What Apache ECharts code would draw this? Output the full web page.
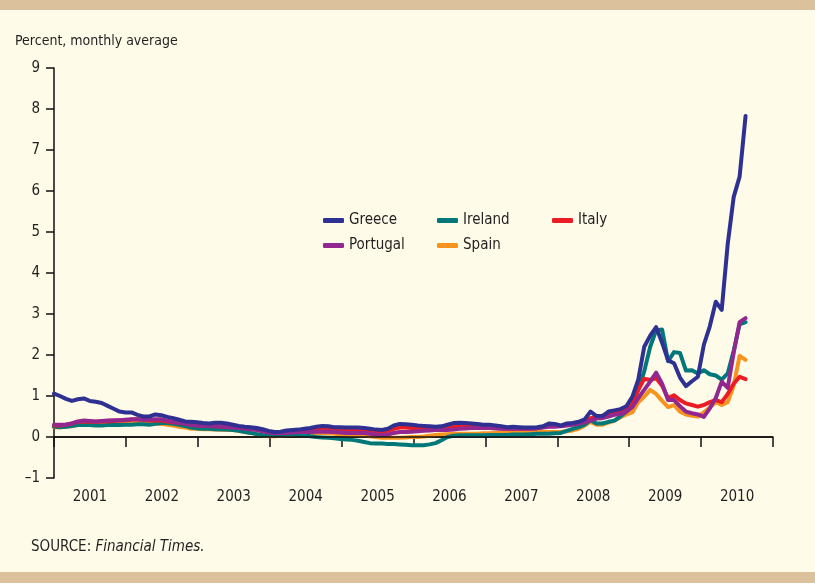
<!DOCTYPE html>
<html>
<head>
<meta charset="utf-8">
<script src="https://cdn.jsdelivr.net/npm/echarts@6/dist/echarts.min.js"></script>
<style>
  html, body { margin: 0; padding: 0; background: #fefbe9; }
  #chart { width: 815px; height: 588px; }
</style>
</head>
<body>
<div id="chart"></div>
<script>
// monthly averages, Jan 2001 onwards (percent)
const years = ['2001', '2002', '2003', '2004', '2005', '2006', '2007', '2008', '2009', '2010'];

const greece = [
  1.06, 1.0, 0.93, 0.88, 0.92, 0.94, 0.88, 0.86, 0.83, 0.76, 0.69, 0.62,
  0.6, 0.6, 0.54, 0.5, 0.5, 0.55, 0.53, 0.49, 0.46, 0.42, 0.38, 0.37,
  0.36, 0.34, 0.33, 0.35, 0.35, 0.33, 0.3, 0.27, 0.25, 0.24, 0.22, 0.19,
  0.15, 0.12, 0.13, 0.16, 0.17, 0.18, 0.2, 0.22, 0.25, 0.27, 0.26, 0.24,
  0.24, 0.23, 0.23, 0.23, 0.22, 0.2, 0.18, 0.17, 0.2, 0.28, 0.32, 0.31,
  0.3, 0.28, 0.27, 0.26, 0.25, 0.26, 0.3, 0.34, 0.35, 0.34, 0.33, 0.32,
  0.3, 0.3, 0.28, 0.26, 0.24, 0.25, 0.24, 0.23, 0.23, 0.24, 0.26, 0.33,
  0.32, 0.28, 0.33, 0.34, 0.37, 0.43, 0.62, 0.51, 0.51, 0.62, 0.65, 0.68,
  0.75, 0.98, 1.4, 2.2, 2.47, 2.68, 2.3, 1.87, 1.8, 1.45, 1.24, 1.36,
  1.47, 2.25, 2.7, 3.3, 3.1, 4.7, 5.85, 6.35, 7.83
];
const ireland = [
  0.25, 0.24, 0.25, 0.27, 0.29, 0.3, 0.29, 0.28, 0.28, 0.29, 0.3, 0.29,
  0.3, 0.3, 0.31, 0.31, 0.3, 0.32, 0.34, 0.34, 0.32, 0.3, 0.27, 0.23,
  0.21, 0.2, 0.2, 0.19, 0.18, 0.18, 0.17, 0.15, 0.12, 0.1, 0.07, 0.05,
  0.04, 0.04, 0.05, 0.06, 0.06, 0.06, 0.05, 0.02, 0.0, -0.01, -0.02, -0.03,
  -0.05, -0.06, -0.07, -0.09, -0.12, -0.15, -0.16, -0.16, -0.17, -0.17, -0.18, -0.19,
  -0.2, -0.2, -0.2, -0.18, -0.15, -0.08, 0.0, 0.03, 0.04, 0.04, 0.04, 0.04,
  0.04, 0.05, 0.05, 0.05, 0.05, 0.06, 0.06, 0.06, 0.07, 0.08, 0.08, 0.08,
  0.09, 0.1, 0.15, 0.2, 0.24, 0.3, 0.41, 0.33, 0.33, 0.37, 0.4, 0.5,
  0.62, 0.8, 1.15, 1.6, 2.2, 2.6, 2.62, 1.85, 2.07, 2.05, 1.62, 1.63,
  1.55, 1.63, 1.53, 1.5, 1.4, 1.55, 2.1, 2.75, 2.8
];
const italy = [
  0.28, 0.28, 0.3, 0.33, 0.37, 0.38, 0.37, 0.37, 0.38, 0.38, 0.39, 0.4,
  0.41, 0.42, 0.43, 0.42, 0.4, 0.41, 0.4, 0.38, 0.36, 0.34, 0.33, 0.3,
  0.28, 0.27, 0.27, 0.26, 0.26, 0.25, 0.25, 0.24, 0.22, 0.2, 0.18, 0.15,
  0.12, 0.1, 0.1, 0.12, 0.13, 0.14, 0.16, 0.18, 0.2, 0.21, 0.2, 0.19,
  0.18, 0.18, 0.17, 0.17, 0.17, 0.16, 0.14, 0.13, 0.15, 0.2, 0.23, 0.23,
  0.22, 0.2, 0.2, 0.2, 0.22, 0.24, 0.26, 0.27, 0.27, 0.27, 0.26, 0.25,
  0.24, 0.23, 0.22, 0.21, 0.2, 0.2, 0.2, 0.2, 0.21, 0.22, 0.24, 0.27,
  0.28, 0.27, 0.3, 0.33, 0.35, 0.4, 0.46, 0.49, 0.52, 0.55, 0.58, 0.6,
  0.7, 0.85, 1.15, 1.42, 1.39, 1.44, 1.25, 0.95, 1.02, 0.9, 0.82, 0.78,
  0.74, 0.78, 0.85, 0.9, 0.85, 1.05, 1.3, 1.47, 1.41
];
const portugal = [
  0.3, 0.3, 0.3, 0.33, 0.38, 0.4, 0.39, 0.38, 0.39, 0.4, 0.41, 0.41,
  0.42, 0.43, 0.43, 0.42, 0.42, 0.43, 0.43, 0.4, 0.37, 0.34, 0.33, 0.3,
  0.28, 0.27, 0.27, 0.26, 0.25, 0.24, 0.23, 0.22, 0.2, 0.19, 0.17, 0.14,
  0.11, 0.09, 0.09, 0.1, 0.11, 0.12, 0.12, 0.12, 0.13, 0.13, 0.13, 0.12,
  0.11, 0.1, 0.1, 0.1, 0.1, 0.08, 0.06, 0.05, 0.06, 0.1, 0.12, 0.12,
  0.13, 0.14, 0.15, 0.16, 0.17, 0.17, 0.17, 0.18, 0.2, 0.21, 0.22, 0.22,
  0.22, 0.22, 0.21, 0.2, 0.2, 0.2, 0.2, 0.2, 0.2, 0.21, 0.23, 0.25,
  0.25, 0.26, 0.28, 0.3, 0.32, 0.36, 0.4, 0.45, 0.46, 0.5, 0.54, 0.56,
  0.62, 0.73, 0.95, 1.15, 1.35, 1.57, 1.3, 0.9, 0.9, 0.75, 0.62, 0.58,
  0.55, 0.49, 0.7, 0.95, 1.35, 1.2, 2.05, 2.8, 2.9
];
const spain = [
  0.24, 0.24, 0.25, 0.27, 0.3, 0.31, 0.3, 0.3, 0.31, 0.31, 0.32, 0.32,
  0.33, 0.33, 0.34, 0.34, 0.33, 0.33, 0.32, 0.3, 0.28, 0.25, 0.23, 0.2,
  0.2, 0.19, 0.19, 0.18, 0.18, 0.17, 0.17, 0.15, 0.13, 0.1, 0.07, 0.04,
  0.02, 0.02, 0.03, 0.05, 0.06, 0.07, 0.08, 0.08, 0.1, 0.1, 0.09, 0.08,
  0.07, 0.06, 0.05, 0.05, 0.04, 0.02, 0.0, -0.02, -0.02, -0.02, -0.02, -0.01,
  0.0, 0.0, 0.01, 0.03, 0.05, 0.06, 0.07, 0.08, 0.08, 0.08, 0.08, 0.08,
  0.09, 0.09, 0.1, 0.1, 0.1, 0.11, 0.11, 0.11, 0.12, 0.12, 0.12, 0.12,
  0.12, 0.12, 0.14, 0.16, 0.2, 0.28, 0.37, 0.3, 0.3, 0.35, 0.4, 0.48,
  0.55, 0.6, 0.85, 0.98, 1.15, 1.05, 0.88, 0.73, 0.78, 0.62, 0.55, 0.52,
  0.5, 0.6, 0.72, 0.85, 0.78, 0.85, 1.25, 1.98, 1.88
];

const colors = {
  Greece: '#2e3192',
  Ireland: '#00787a',
  Italy: '#ec1c24',
  Portugal: '#92278f',
  Spain: '#f7941d'
};

const FONT = '"Liberation Sans Narrow", "DejaVu Sans Condensed", "Roboto", sans-serif';

function toPoints(arr) {
  return arr.map((v, i) => [i, v]);
}

function makeSeries(name, arr) {
  return {
    name: name,
    type: 'line',
    xAxisIndex: 1,
    data: toPoints(arr),
    symbol: 'none',
    smooth: false,
    silent: true,
    lineStyle: { color: colors[name], width: 4, cap: 'round', join: 'round' },
    itemStyle: { color: colors[name] }
  };
}

function legendAt(name, left, top) {
  return {
    data: [name],
    left: left,
    top: top,
    padding: 0,
    icon: 'roundRect',
    itemWidth: 21,
    itemHeight: 5,
    itemGap: 0,
    selectedMode: false,
    textStyle: { fontFamily: FONT, fontSize: 15, color: '#231f20' }
  };
}

const chart = echarts.init(document.getElementById('chart'), null, { renderer: 'canvas' });

const series = [
  makeSeries('Spain', spain),
  makeSeries('Ireland', ireland),
  makeSeries('Italy', italy),
  makeSeries('Portugal', portugal),
  makeSeries('Greece', greece)
];
// zero line
series[0].markLine = {
  silent: true,
  symbol: 'none',
  label: { show: false },
  lineStyle: { color: '#111', width: 1.5, type: 'solid' },
  data: [{ yAxis: 0 }]
};

const option = {
  backgroundColor: '#fefbe9',
  animation: false,
  textStyle: { fontFamily: FONT },
  grid: { left: 54, right: 42, top: 68, bottom: 110 },
  legend: [
    legendAt('Greece', 323, 213),
    legendAt('Ireland', 437, 213),
    legendAt('Italy', 552, 213),
    legendAt('Portugal', 323, 238),
    legendAt('Spain', 437, 238)
  ],
  xAxis: [
    {
      type: 'category',
      data: years,
      boundaryGap: true,
      axisLine: { lineStyle: { color: '#111', width: 1.5 } },
      axisTick: { show: true, inside: false, length: 10, lineStyle: { color: '#111', width: 1.5 } },
      axisLabel: { color: '#231f20', fontSize: 15, fontFamily: FONT, margin: 12 },
      splitLine: { show: false }
    },
    {
      type: 'value',
      min: 0,
      max: 120.6,
      show: false
    }
  ],
  yAxis: {
    type: 'value',
    min: -1,
    max: 9,
    interval: 1,
    axisLine: { show: true, lineStyle: { color: '#111', width: 1.5 } },
    axisTick: { show: true, inside: false, length: 8, lineStyle: { color: '#111', width: 1.5 } },
    axisLabel: {
      color: '#231f20',
      fontSize: 15,
      fontFamily: FONT,
      margin: 14,
      formatter: v => (v < 0 ? '\u2013' + Math.abs(v) : String(v))
    },
    splitLine: { show: false }
  },
  graphic: [
    { type: 'rect', shape: { x: 0, y: 0, width: 815, height: 10 }, style: { fill: '#dbc29c' }, silent: true },
    { type: 'rect', shape: { x: 0, y: 572, width: 815, height: 11 }, style: { fill: '#dbc29c' }, silent: true },
    { type: 'rect', shape: { x: 0, y: 583, width: 815, height: 5 }, style: { fill: '#ffffff' }, silent: true },
    {
      type: 'text', left: 15, top: 34, silent: true,
      style: { text: 'Percent, monthly average', fontFamily: FONT, fontSize: 14, fill: '#231f20' }
    },
    {
      type: 'text', left: 31, top: 540, silent: true,
      style: {
        text: '{a|SOURCE: }{b|Financial Times.}',
        rich: {
          a: { fontFamily: FONT, fontSize: 15, fill: '#231f20' },
          b: { fontFamily: FONT, fontSize: 15, fontStyle: 'italic', fill: '#231f20' }
        }
      }
    }
  ],
  series: series
};

chart.setOption(option);
</script>
</body>
</html>
